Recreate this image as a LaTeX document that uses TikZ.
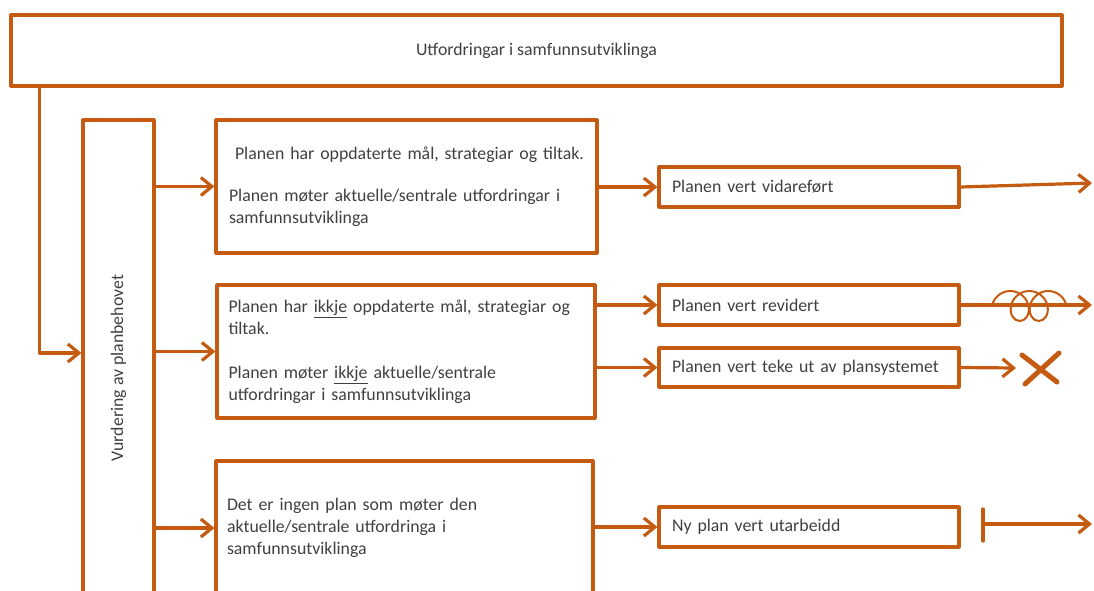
\documentclass[tikz,border=0pt]{standalone}
\usepackage{fontspec}
\setmainfont{Carlito}
\usepackage{xcolor}
\usetikzlibrary{arrows.meta,decorations.pathmorphing}
\definecolor{rust}{RGB}{197,90,17}
\definecolor{txtgray}{RGB}{64,64,64}

\begin{document}
\begin{tikzpicture}[line cap=round,line join=round,x=1pt,y=-1pt,
  >={Straight Barb[length=11pt,width=18pt]},
  box/.style={draw=rust,line width=3.2pt,text=txtgray,inner sep=0pt,
    font=\fontsize{17.8}{22}\selectfont},
  bigbox/.style={box,minimum height=133,align=left,text width=355},
  smallbox/.style={box,minimum width=300,minimum height=40,align=left,text width=274},
  arr/.style={->,draw=rust,line width=3.2pt}]
\useasboundingbox (0,0) rectangle (1094,590);
\clip (0,0) rectangle (1094,590);
% top and left
\node[box,minimum width=1051,minimum height=71] (top) at (536.5,50.5) {Utfordringar i samfunnsutviklinga};
\node[box,minimum width=71,minimum height=496] (vurd) at (118.5,368) {\rotatebox{90}{Vurdering av planbehovet}};
% situations
\node[bigbox,minimum width=381] (sit1) at (406.5,186.5) {\hspace*{6pt}Planen har oppdaterte mål, strategiar og tiltak.\\[20pt]
Planen møter aktuelle/sentrale utfordringar i\\ samfunnsutviklinga};
\node[bigbox,minimum width=378] (sit2) at (406,351.5) {Planen har \underline{ikkje} oppdaterte mål, strategiar og\\ tiltak.\\[22pt]
Planen møter \underline{ikkje} aktuelle/sentrale\\ utfordringar i samfunnsutviklinga};
\node[bigbox,minimum width=377,minimum height=134] (sit3) at (404.5,528) {Det er ingen plan som møter den\\ aktuelle/sentrale utfordringa i\\ samfunnsutviklinga};
% results
\node[smallbox] (vid) at (809,187) {Planen vert vidareført};
\node[smallbox] (rev) at (809,305) {Planen vert revidert};
\node[smallbox,minimum height=39] (teke) at (809,367.5) {Planen vert teke ut av plansystemet};
\node[smallbox] (ny) at (809,527) {Ny plan vert utarbeidd};
\coordinate (vidend) at (1092,183);
\coordinate (revend) at (1092,305);
\coordinate (tekeend) at (1016,368);
\coordinate (barlow) at (983,509);
\coordinate (barhigh) at (983,541);
\coordinate (nyend) at (1092,524);
% connectors
\draw[arr] ([xshift=30]top.south west) |- ([yshift=15]vurd.west);
\draw[arr] (vurd.east |- sit1.west) -- (sit1.west);
\draw[arr] (vurd.east |- sit2.west) -- (sit2.west);
\draw[arr] (vurd.east |- sit3.west) -- (sit3.west);
\draw[arr] (sit1.east |- vid.west) -- (vid.west);
\draw[arr] (sit2.east |- rev.west) -- (rev.west);
\draw[arr] (sit2.east |- teke.west) -- (teke.west);
\draw[arr] (sit3.east |- ny.west) -- (ny.west);
\draw[arr] (vid.east) -- (vidend);
\draw[arr] (rev.east) -- (revend);
\draw[arr] (teke.east) -- (tekeend);
\draw[draw=rust,line width=3.2pt] (barlow) -- (barhigh);
\draw[arr] (barlow |- nyend) -- (nyend);
% scribble and cross
\draw[rust,line width=2pt,decorate,decoration={coil,amplitude=15pt,segment length=19pt,aspect=0.9}] (992,306) -- (1068,306);
\draw[rust,line width=5pt] (1022,355) -- (1057,382);
\draw[rust,line width=5pt] (1059,353) -- (1025,384);
\end{tikzpicture}
\end{document}
